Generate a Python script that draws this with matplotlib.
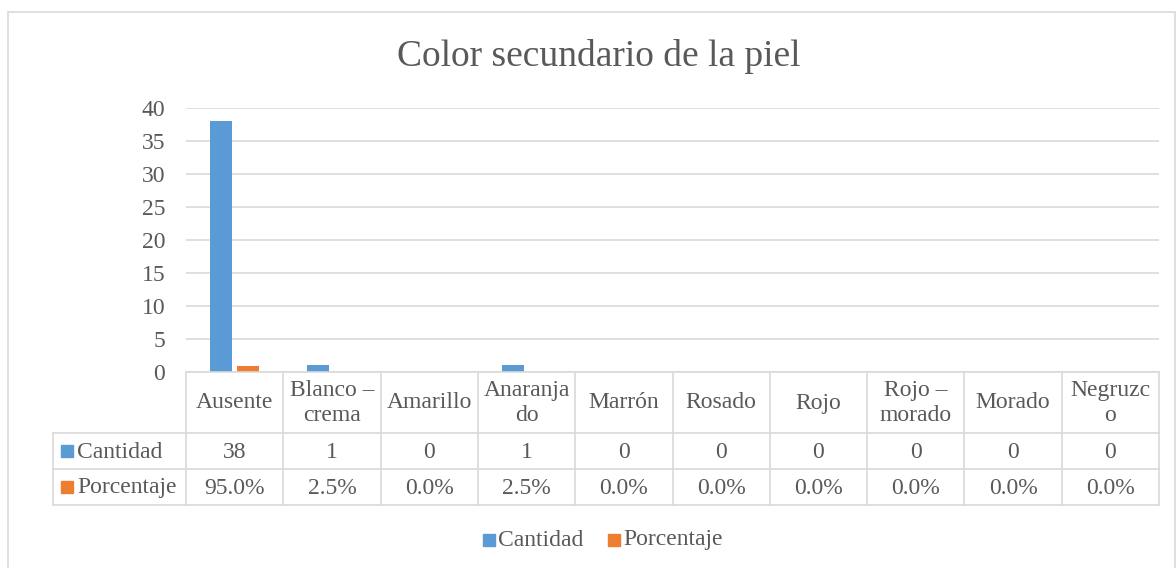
import matplotlib.pyplot as plt
from matplotlib.patches import Rectangle
from matplotlib.lines import Line2D
import matplotlib.transforms as mtransforms

plt.rcParams['font.family'] = ['Liberation Serif', 'DejaVu Serif']

# Data
categorias = ['Ausente', 'Blanco –\ncrema', 'Amarillo', 'Anaranja\ndo', 'Marrón',
              'Rosado', 'Rojo', 'Rojo –\nmorado', 'Morado', 'Negruzc\no']
cantidad = [38, 1, 0, 1, 0, 0, 0, 0, 0, 0]
porcentaje = [0.95, 0.025, 0, 0.025, 0, 0, 0, 0, 0, 0]
series = ['Cantidad', 'Porcentaje']
colores = ['#5B9BD5', '#ED7D31']
texto = '#595959'
rejilla = '#D9D9D9'

W, H = 1176, 568
fig = plt.figure(figsize=(W / 100, H / 100), dpi=100)


def fy(py):
    # pixel row from top -> figure fraction
    return 1 - py / H


# chart border
fig.patches.append(Rectangle((7.5 / W, fy(570)), (1175 - 7.5) / W, (570 - 12) / H,
                             transform=fig.transFigure, fill=False,
                             edgecolor=rejilla, linewidth=1.2))

ax = fig.add_axes([186 / W, fy(372), (1159 - 186) / W, (372 - 108) / H])
x = list(range(len(categorias)))
ancho = 0.225
ax.bar([i - 0.14 for i in x], cantidad, width=ancho, color=colores[0], zorder=3)
ax.bar([i + 0.14 for i in x], porcentaje, width=ancho, color=colores[1], zorder=3)
ax.set_xlim(-0.5, len(categorias) - 0.5)
ax.set_ylim(0, 40)
ax.set_yticks(range(0, 41, 5))
ax.tick_params(axis='y', length=0, labelsize=17, labelcolor=texto, pad=15)
ax.set_xticks([])
ax.grid(axis='y', color=rejilla, linewidth=1.2, zorder=0)
for s in ax.spines.values():
    s.set_visible(False)

fig.text(0.509, fy(56), 'Color secundario de la piel', ha='center', va='center',
         fontsize=27, color=texto)

# data table below the axis
tr = mtransforms.blended_transform_factory(ax.transData, fig.transFigure)
x_izq = -0.5 - (186 - 53) / 97.3
x_der = len(categorias) - 0.5
filas = [372, 433, 469, 505]
lw = 1.2


def hline(py, x0):
    fig.add_artist(Line2D([x0, x_der], [fy(py), fy(py)], transform=tr,
                          color=rejilla, linewidth=lw))


def vline(xd, y0, y1):
    fig.add_artist(Line2D([xd, xd], [fy(y0), fy(y1)], transform=tr,
                          color=rejilla, linewidth=lw))


hline(372, -0.5)
for py in filas[1:]:
    hline(py, x_izq)
for i in range(len(categorias) + 1):
    vline(i - 0.5, 372, 505)
vline(x_izq, 433, 505)

for i, c in enumerate(categorias):
    fig.text(i, fy(403), c, transform=tr, ha='center', va='center', fontsize=17,
             color=texto, linespacing=1.3)
    fig.text(i, fy(452), f'{cantidad[i]}', transform=tr, ha='center', va='center',
             fontsize=17, color=texto)
    fig.text(i, fy(488), f'{porcentaje[i] * 100:.1f}%', transform=tr, ha='center',
             va='center', fontsize=17, color=texto)

for k, (nombre, col) in enumerate(zip(series, colores)):
    yc = (filas[k + 1] + filas[k + 2]) / 2
    fig.patches.append(Rectangle((61 / W, fy(yc + 6)), 12 / W, 12 / H,
                                 transform=fig.transFigure, color=col))
    fig.text(77 / W, fy(yc + 1), nombre, ha='left', va='center', fontsize=17,
             color=texto)

# legend
leg = [(483, 'Cantidad'), (608, 'Porcentaje')]
for (px, nombre), col in zip(leg, colores):
    fig.patches.append(Rectangle((px / W, fy(546)), 12 / W, 12 / H,
                                 transform=fig.transFigure, color=col))
    fig.text((px + 15) / W, fy(540), nombre, ha='left', va='center', fontsize=17,
             color=texto)

fig.savefig('out.png', dpi=100)
